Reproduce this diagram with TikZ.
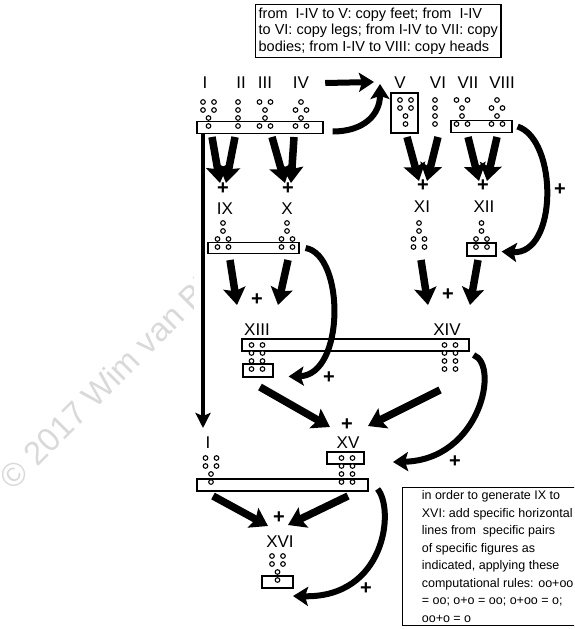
\documentclass[tikz,border=0pt]{standalone}
\usepackage{fontspec}
\setmainfont{Liberation Sans}
\usetikzlibrary{arrows.meta, positioning, calc}

% one geomantic figure: centre x, top row y, dots per row
\newcommand{\geofig}[3]{%
  \foreach \n [count=\r] in {#3}{%
    \pgfmathsetmacro{\yy}{#2+8*(\r-1)}%
    \ifnum\n=1
      \draw[dotmark] (#1,\yy) circle (2.3pt);
    \else
      \draw[dotmark] (#1-5.5,\yy) circle (2.3pt) (#1+5.5,\yy) circle (2.3pt);
    \fi
  }}

\begin{document}
\begin{tikzpicture}[x=1pt, y=-1pt,
    rowbox/.style={draw, line width=1.2pt, inner sep=0pt, minimum height=12pt},
    dotmark/.style={draw, fill=white, line width=1.1pt},
    numeral/.style={font=\fontsize{17}{17}\selectfont, inner sep=0pt},
    plus/.style={font=\bfseries\fontsize{20}{20}\selectfont, inner sep=0pt},
    note/.style={draw, line width=1.3pt, align=left, anchor=north west,
        inner xsep=3pt, inner ysep=3pt},
    watermark/.style={text=gray!30, font=\fontsize{33}{33}\selectfont},
    bigarrow/.style={line width=7.5pt, -{Stealth[width=22pt, length=17pt, inset=3pt]}},
    bendarrow/.style={line width=6pt, -{Stealth[width=19pt, length=15pt, inset=3pt]}},
    thinarrow/.style={line width=4pt, -{Stealth[width=15pt, length=15pt, inset=3pt]}}
]
\useasboundingbox (0,0) rectangle (574,629);
\clip (0,0) rectangle (574,629);

\begin{scope}
\clip (0,0) rectangle (193,629);
\node[watermark, rotate=45, anchor=base west] (wm) at (11,494) {© 2017 Wim van Bi};
\end{scope}

% notes
\node[note, font=\fontsize{14.5}{16.5}\selectfont] (copynote) at (255,4)
    {from\ \ I-IV to V: copy feet; from\ \ I-IV\\to VI: copy legs; from I-IV to VII: copy\\bodies; from I-IV to VIII: copy heads};
\node[note, font=\fontsize{12.5}{17.5}\selectfont, inner xsep=2pt, minimum width=190pt] (rulenote) at (402,487)
    {in order to generate IX to\\XVI: add specific horizontal\\lines from\ \ specific pairs\\of specific figures as\\indicated, applying these\\computational rules: oo+oo\\= oo; o+o = oo; o+oo = o;\\oo+o = o};

% mothers and daughters
\node[numeral] (lI) at (205,83) {I};
\node[numeral] (lII) at (241,83) {II};
\node[numeral] (lIII) at (265,83) {III};
\node[numeral] (lIV) at (301,83) {IV};
\node[numeral] (lV) at (400,83) {V};
\node[numeral] (lVI) at (438,83) {VI};
\node[numeral] (lVII) at (468,83) {VII};
\node[numeral] (lVIII) at (502,83) {VIII};

\node[rowbox, minimum width=126pt] (rowA) at (260,127.5) {};
\node[rowbox, minimum width=27pt, minimum height=40pt] (boxV) at (404.5,113) {};
\node[rowbox, minimum width=61pt] (rowB) at (481.5,126.5) {};

\geofig{208.5}{102}{2,2,1,1}
\geofig{238}{102}{1,1,1,1}
\geofig{265}{102}{2,1,1,2}
\geofig{301}{102}{1,2,1,2}
\geofig{405.5}{100}{2,2,1,1}
\geofig{435}{100}{1,1,1,1}
\geofig{462}{100}{2,1,1,2}
\geofig{497}{100}{1,2,1,2}

\coordinate (tipVa) at (374,82);
\coordinate (tipVb) at (380,84);
\draw[bendarrow] ([xshift=16pt]lIV.east) -- (tipVa);
\draw[bendarrow] ([xshift=9pt,yshift=-4pt]rowA.east) .. controls +(32,0) and +(0,30) .. (tipVb);

% nieces
\node[plus] (pIX) at (223,189) {+};
\node[numeral] (lIX) at (225,209) {IX};
\node[plus] (pX) at (288,189) {+};
\node[numeral] (lX) at (287,209) {X};
\node[plus] (pXI) at (423,186) {+};
\node[numeral] (lXI) at (422,207) {XI};
\node[plus] (pXII) at (483,186) {+};
\node[numeral] (lXII) at (484,207) {XII};

\node[rowbox, minimum width=91pt, minimum height=11pt] (rowC) at (253.5,248) {};
\node[rowbox, minimum width=29pt, minimum height=13pt] (boxXII) at (481.5,249.5) {};

\geofig{223}{223}{1,1,2,2}
\geofig{287}{223}{1,1,2,2}
\geofig{419}{223}{1,1,2,2}
\geofig{481.5}{223}{1,1,2,2}

\foreach \ax/\tgt/\dx/\dy in {212/pIX/-3/-6, 235/pIX/3/-6, 272/pX/-3/-6, 294/pX/3/-6,
    407/pXI/-4/-5, 438/pXI/4/-5, 468/pXII/-4/-5, 497/pXII/4/-5}
  \draw[bigarrow] (\ax,137) -- ([shift={(\dx,\dy)}]\tgt.center);

\draw[bendarrow] ([xshift=5pt]rowB.east) .. controls (558,140) and (558,255) .. ([xshift=5pt,yshift=-2pt]boxXII.east);
\node[plus] (pc1) at (560,190) {+};

% witnesses
\node[plus] (pXIII) at (257,300) {+};
\node[numeral] (lXIII) at (257,330) {XIII};
\node[plus] (pXIV) at (448,295) {+};
\node[numeral] (lXIV) at (447,330) {XIV};

\node[rowbox, minimum width=227pt] (rowD) at (355.5,345) {};
\node[rowbox, minimum width=30pt, minimum height=13pt] (boxXIII) at (258,370.5) {};

\geofig{257}{345}{2,2,2,2}
\geofig{450}{345}{2,2,2,2}

\foreach \ax/\tgt/\dx/\dy in {230/pXIII/-20/5, 288/pXIII/21/5, 421/pXIV/-20/10, 478/pXIV/22/10}
  \draw[bigarrow] (\ax,260) -- ([shift={(\dx,\dy)}]\tgt.center);

\draw[bendarrow] ([xshift=6pt]rowC.east) .. controls (345,255) and (345,375) .. ([xshift=15pt,yshift=-6pt]boxXIII.east);
\node[plus] (pc2) at (329,378) {+};

% judge
\node[numeral] (lIb) at (208,443) {I};
\node[plus] (pXV) at (347,425) {+};
\node[numeral] (lXV) at (348,443) {XV};

\node[rowbox, minimum width=37pt] (boxXV) at (345.5,458) {};
\node[rowbox, minimum width=171pt] (rowE) at (282.5,485) {};

\geofig{211}{458}{2,2,1,1}
\geofig{347}{458}{2,2,2,2}

\coordinate (downI) at (203,428);
\draw[thinarrow] (rowA.south west -| downI) -- (downI);

\foreach \ax/\ay/\tgt/\dx/\dy in {260/387/pXV/-17/2, 440/390/pXV/21/1}
  \draw[bigarrow] (\ax,\ay) -- ([shift={(\dx,\dy)}]\tgt.center);

\coordinate (tipXV) at (393,462);
\draw[bendarrow] ([xshift=4pt,yshift=-10pt]rowD.east) .. controls (500,365) and (480,460) .. (tipXV);
\node[plus] (pc3) at (455,462) {+};

% reconciler
\node[plus] (pXVI) at (279,518) {+};
\node[numeral] (lXVI) at (280,542) {XVI};
\node[rowbox, minimum width=31pt] (boxXVI) at (277.5,582) {};
\geofig{277.5}{556}{2,2,1,1}

\foreach \ax/\tgt/\dx/\dy in {213/pXVI/-11/8, 348/pXVI/9/7}
  \draw[bigarrow] (\ax,496) -- ([shift={(\dx,\dy)}]\tgt.center);

\coordinate (tipXVI) at (293,596);
\draw[bendarrow] ([xshift=9pt,yshift=-4pt]rowE.east) .. controls (395,510) and (385,598) .. (tipXVI);
\node[plus] (pc4) at (366,589) {+};

\end{tikzpicture}
\end{document}
